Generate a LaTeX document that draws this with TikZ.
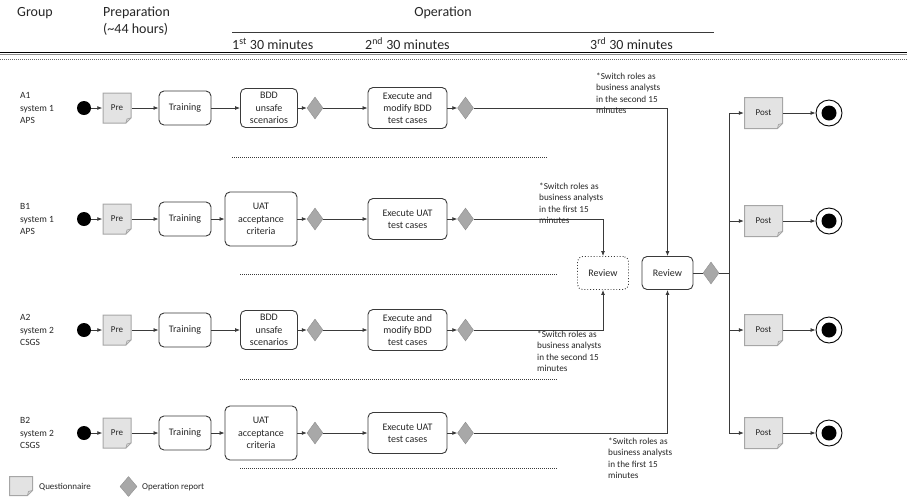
\documentclass[tikz,border=0pt]{standalone}
\usepackage{fontspec}
\setmainfont{Carlito}
\usetikzlibrary{arrows.meta,shapes.geometric}

\definecolor{txt}{HTML}{262626}
\definecolor{ln}{HTML}{3A3A3A}
\definecolor{notefill}{HTML}{E3E3E3}
\definecolor{noteline}{HTML}{A6A6A6}
\definecolor{dia}{HTML}{A8A8A8}

\begin{document}
\begin{tikzpicture}[x=1pt,y=1pt,
    flow/.style={draw=ln, line width=0.8pt, -{Latex[length=5pt,width=4pt]}},
    wire/.style={draw=ln, line width=0.8pt},
    sep/.style={draw=ln, line width=0.7pt, dash pattern=on 1pt off 1pt},
    head/.style={font=\fontsize{14}{17}\selectfont, text=txt, inner sep=0pt},
    rowlab/.style={font=\fontsize{9.5}{12.5}\selectfont, text=txt, align=left, inner sep=0pt},
    remark/.style={font=\fontsize{9.2}{11.5}\selectfont, text=txt, align=left, inner sep=0pt, anchor=north west},
    keytext/.style={font=\fontsize{9}{11}\selectfont, text=txt, inner sep=0pt, anchor=west},
    act/.style={draw=ln, line width=0.9pt, rounded corners=5pt, align=center,
      font=\fontsize{10}{12.2}\selectfont, text=txt, inner sep=2pt},
    startdot/.style={circle, fill=black, minimum size=14pt, inner sep=0pt},
    enddot/.style={circle, draw=black, line width=0.9pt, fill=white, minimum size=26pt, inner sep=0pt,
      path picture={\fill[black] (path picture bounding box.center) circle (7.5pt);}},
    report/.style={diamond, fill=dia, draw=dia!85!black, line width=0.4pt,
      minimum width=16pt, minimum height=22pt, inner sep=0pt},
    qnote/.style={minimum width=29pt, minimum height=31pt, inner sep=0pt, fill=white,
      font=\fontsize{9}{11}\selectfont, text=txt,
      path picture={
        \draw[fill=notefill, draw=noteline, line width=1pt]
          ([shift={(0.5,-0.5)}]path picture bounding box.north west)
          -- ([shift={(-0.5,-0.5)}]path picture bounding box.north east)
          -- ([shift={(-0.5,5.5)}]path picture bounding box.south east)
          -- ([shift={(-5.5,0.5)}]path picture bounding box.south east)
          -- ([shift={(0.5,0.5)}]path picture bounding box.south west) -- cycle;
        \draw[draw=noteline, line width=0.8pt]
          ([shift={(-5.5,0.5)}]path picture bounding box.south east)
          -- ([shift={(-4.5,4.5)}]path picture bounding box.south east)
          -- ([shift={(-0.5,5.5)}]path picture bounding box.south east);
      }},
  ]
  \useasboundingbox (0,0) rectangle (907,-499);

  % header
  \node[head] (hgroup) at (35,-13) {Group};
  \node[head, anchor=west, align=left] (hprep) at (103,-21.5) {Preparation\\(\textasciitilde44 hours)};
  \node[head] (hop) at (443,-13) {Operation};
  \node[head, anchor=west] (hm1) at (232,-44) {1\textsuperscript{st} 30 minutes};
  \node[head, anchor=west] (hm2) at (365,-44) {2\textsuperscript{nd} 30 minutes};
  \node[head, anchor=west] (hm3) at (590,-44) {3\textsuperscript{rd} 30 minutes};
  \draw[ln, line width=1pt] (232,-32) -- (714,-32);
  \draw[black, line width=1pt] (0,-52.5) -- (907,-52.5);
  \draw[black!45, line width=1pt] (0,-54.5) -- (907,-54.5);
  \draw[sep, draw=black!60] (0,-59) -- (907,-59);

  % separators between groups
  \draw[sep] (232,-157) -- (547,-157);
  \draw[sep] (240,-274) -- (557,-274);
  \draw[sep] (240,-379) -- (557,-379);
  \draw[sep] (240,-468) -- (557,-468);

  % the four groups
  \foreach \r/\y/\lab/\tx/\tw/\th/\task/\exec in {
      a1/108/{A1\\system 1\\APS}/269/57/39/{BDD\\unsafe\\scenarios}/{Execute and\\modify BDD\\test cases},
      b1/219/{B1\\system 1\\APS}/261/72/54/{UAT\\acceptance\\criteria}/{Execute UAT\\test cases},
      a2/330/{A2\\system 2\\CSGS}/269/57/39/{BDD\\unsafe\\scenarios}/{Execute and\\modify BDD\\test cases},
      b2/433/{B2\\system 2\\CSGS}/261/72/54/{UAT\\acceptance\\criteria}/{Execute UAT\\test cases}}
  {
    \node[rowlab, anchor=west] (g\r) at (20,-\y) {\lab};
    \node[startdot] (s\r) at (84,-\y) {};
    \node[qnote] (p\r) at (117,-\y) {Pre};
    \node[act, minimum width=52, minimum height=34] (t\r) at (185,-\y) {Training};
    \node[act, minimum width=\tw, minimum height=\th] (u\r) at (\tx,-\y) {\task};
    \node[report] (r\r) at (315,-\y) {};
    \node[act, minimum width=79, minimum height=41] (e\r) at (407.5,-\y) {\exec};
    \node[report] (x\r) at (465.5,-\y) {};
    \draw[flow] (s\r) -- (p\r);
    \draw[flow] (p\r) -- (t\r);
    \draw[flow] (t\r) -- (u\r);
    \draw[flow] (u\r) -- (r\r);
    \draw[flow] (r\r) -- (e\r);
    \draw[flow] (e\r) -- (x\r);
  }

  % reviews
  \node[act, dotted, minimum width=51, minimum height=33] (rev1) at (603,-273) {Review};
  \node[act, minimum width=51, minimum height=33] (rev2) at (667.5,-273) {Review};
  \draw[flow] (xa1) -| (rev2);
  \draw[flow] (xb1) -| (rev1);
  \draw[flow] (xa2) -| (rev1);
  \draw[flow] (xb2) -| (rev2);

  \node[remark] (n1) at (596,-72.5) {*Switch roles as\\business analysts\\in the second 15\\minutes};
  \node[remark] (n2) at (539,-182.5) {*Switch roles as\\business analysts\\in the first 15\\minutes};
  \node[remark] (n3) at (537,-330.5) {*Switch roles as\\business analysts\\in the second 15\\minutes};
  \node[remark] (n4) at (608,-437.5) {*Switch roles as\\business analysts\\in the first 15\\minutes};

  % post questionnaires
  \node[report] (fin) at (711,-273) {};
  \coordinate (bus) at (729,-273);
  \draw[wire] (rev2) -- (fin);
  \draw[wire] (fin) -- (bus);
  \foreach \k/\y in {1/113,2/221,3/330,4/433} {
    \node[qnote, minimum width=39, minimum height=32] (post\k) at (763.5,-\y) {Post};
    \node[enddot] (end\k) at (829,-\y) {};
    \draw[flow] (bus) |- (post\k);
    \draw[flow] (post\k) -- (end\k);
  }

  % legend
  \node[qnote, minimum width=24, minimum height=20] (keyq) at (21,-486) {};
  \node[keytext] (keyqt) at (39,-487) {Questionnaire};
  \node[report, minimum width=17, minimum height=20] (keyr) at (128.5,-486.5) {};
  \node[keytext] (keyrt) at (142,-487) {Operation report};
\end{tikzpicture}
\end{document}
